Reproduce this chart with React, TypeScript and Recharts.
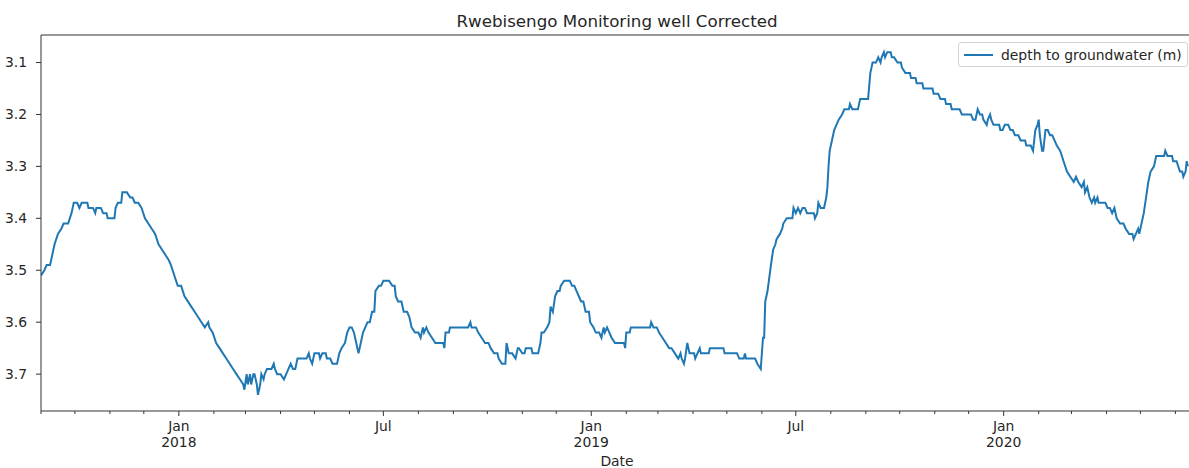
import React from 'react';
import { LineChart, Line, XAxis, YAxis, Legend, ReferenceLine, Customized } from 'recharts';

// Daily well readings (subsampled), depth below ground in metres
const dates = [
  '2017-09-01', '2017-09-04', '2017-09-06', '2017-09-09', '2017-09-11', '2017-09-13', '2017-09-16', '2017-09-19', '2017-09-21', '2017-09-25', '2017-09-28', '2017-09-30',
  '2017-10-03', '2017-10-05', '2017-10-07', '2017-10-12', '2017-10-13', '2017-10-17', '2017-10-19', '2017-10-20', '2017-10-24', '2017-10-26', '2017-10-29', '2017-10-30',
  '2017-11-05', '2017-11-06', '2017-11-08', '2017-11-11', '2017-11-12', '2017-11-16', '2017-11-19', '2017-11-21', '2017-11-23', '2017-11-26', '2017-11-29',
  '2017-12-02', '2017-12-05', '2017-12-08', '2017-12-11', '2017-12-14', '2017-12-17', '2017-12-20', '2017-12-23', '2017-12-25', '2017-12-28', '2017-12-31',
  '2018-01-03', '2018-01-06', '2018-01-09', '2018-01-12', '2018-01-15', '2018-01-18', '2018-01-21', '2018-01-24', '2018-01-27', '2018-01-28', '2018-01-31',
  '2018-02-03', '2018-02-06', '2018-02-09', '2018-02-12', '2018-02-15', '2018-02-18', '2018-02-21', '2018-02-24', '2018-02-27', '2018-02-28',
  '2018-03-02', '2018-03-03', '2018-03-05', '2018-03-06', '2018-03-08', '2018-03-09', '2018-03-11', '2018-03-12', '2018-03-14', '2018-03-15', '2018-03-17', '2018-03-18', '2018-03-20', '2018-03-24', '2018-03-26', '2018-03-27', '2018-03-29',
  '2018-04-01', '2018-04-04', '2018-04-06', '2018-04-08', '2018-04-10', '2018-04-12', '2018-04-14', '2018-04-16', '2018-04-24', '2018-04-26', '2018-04-27', '2018-04-29',
  '2018-05-01', '2018-05-05', '2018-05-06', '2018-05-08', '2018-05-11', '2018-05-12', '2018-05-15', '2018-05-17', '2018-05-21', '2018-05-23', '2018-05-25', '2018-05-28', '2018-05-30',
  '2018-06-01', '2018-06-03', '2018-06-05', '2018-06-07', '2018-06-09', '2018-06-11', '2018-06-13', '2018-06-15', '2018-06-17', '2018-06-19', '2018-06-21', '2018-06-23', '2018-06-24', '2018-06-27', '2018-06-29',
  '2018-07-01', '2018-07-06', '2018-07-09', '2018-07-11', '2018-07-12', '2018-07-14', '2018-07-17', '2018-07-19', '2018-07-22', '2018-07-24', '2018-07-26', '2018-07-29',
  '2018-08-01', '2018-08-03', '2018-08-05', '2018-08-06', '2018-08-08', '2018-08-10', '2018-08-13', '2018-08-16', '2018-08-23', '2018-08-24', '2018-08-25', '2018-08-28', '2018-08-29',
  '2018-09-14', '2018-09-16', '2018-09-17', '2018-09-21', '2018-09-23', '2018-09-26', '2018-09-29',
  '2018-10-02', '2018-10-04', '2018-10-07', '2018-10-10', '2018-10-11', '2018-10-14', '2018-10-17', '2018-10-18', '2018-10-20', '2018-10-23', '2018-10-26', '2018-10-28', '2018-10-29',
  '2018-11-01', '2018-11-03', '2018-11-04', '2018-11-09', '2018-11-10', '2018-11-15', '2018-11-17', '2018-11-18', '2018-11-20', '2018-11-23', '2018-11-25', '2018-11-26', '2018-11-28', '2018-11-30',
  '2018-12-02', '2018-12-04', '2018-12-05', '2018-12-08', '2018-12-13', '2018-12-15', '2018-12-17', '2018-12-19', '2018-12-21', '2018-12-23', '2018-12-25', '2018-12-27', '2018-12-30', '2018-12-31',
  '2019-01-03', '2019-01-05', '2019-01-08', '2019-01-10', '2019-01-12', '2019-01-13', '2019-01-15', '2019-01-17', '2019-01-19', '2019-01-22', '2019-01-30', '2019-01-31',
  '2019-02-01', '2019-02-04', '2019-02-05', '2019-02-22', '2019-02-23', '2019-02-25', '2019-02-28',
  '2019-03-02', '2019-03-05', '2019-03-08', '2019-03-11', '2019-03-13', '2019-03-16', '2019-03-19', '2019-03-21', '2019-03-22', '2019-03-24', '2019-03-25', '2019-03-27', '2019-03-29',
  '2019-04-02', '2019-04-03', '2019-04-05', '2019-04-07', '2019-04-08', '2019-04-15', '2019-04-16', '2019-04-28', '2019-04-29',
  '2019-05-10', '2019-05-12', '2019-05-16', '2019-05-17', '2019-05-18', '2019-05-26', '2019-05-28', '2019-05-31',
  '2019-06-02', '2019-06-03', '2019-06-04', '2019-06-06', '2019-06-09', '2019-06-11', '2019-06-13', '2019-06-14', '2019-06-17', '2019-06-19', '2019-06-20', '2019-06-23', '2019-06-28', '2019-06-29',
  '2019-07-01', '2019-07-03', '2019-07-05', '2019-07-07', '2019-07-09', '2019-07-11', '2019-07-17', '2019-07-18', '2019-07-20', '2019-07-21', '2019-07-23', '2019-07-26', '2019-07-28', '2019-07-29', '2019-07-30', '2019-07-31',
  '2019-08-02', '2019-08-04', '2019-08-06', '2019-08-08', '2019-08-11', '2019-08-13', '2019-08-17', '2019-08-18', '2019-08-20', '2019-08-25', '2019-08-27',
  '2019-09-03', '2019-09-05', '2019-09-07', '2019-09-10', '2019-09-12', '2019-09-14', '2019-09-15', '2019-09-17', '2019-09-18', '2019-09-20', '2019-09-23', '2019-09-24', '2019-09-26', '2019-09-29',
  '2019-10-02', '2019-10-03', '2019-10-06', '2019-10-10', '2019-10-11', '2019-10-15', '2019-10-16', '2019-10-21', '2019-10-22', '2019-10-30', '2019-10-31',
  '2019-11-04', '2019-11-06', '2019-11-10', '2019-11-11', '2019-11-15', '2019-11-16', '2019-11-23', '2019-11-25',
  '2019-12-03', '2019-12-05', '2019-12-07', '2019-12-09', '2019-12-11', '2019-12-13', '2019-12-14', '2019-12-17', '2019-12-18', '2019-12-20', '2019-12-21', '2019-12-23', '2019-12-28', '2019-12-29', '2019-12-31',
  '2020-01-02', '2020-01-05', '2020-01-07', '2020-01-09', '2020-01-11', '2020-01-14', '2020-01-16', '2020-01-20', '2020-01-21', '2020-01-25', '2020-01-27', '2020-01-29', '2020-01-31',
  '2020-02-01', '2020-02-02', '2020-02-04', '2020-02-05', '2020-02-07', '2020-02-09', '2020-02-11', '2020-02-13', '2020-02-15', '2020-02-17', '2020-02-20', '2020-02-23', '2020-02-26', '2020-02-29',
  '2020-03-03', '2020-03-05', '2020-03-07', '2020-03-10', '2020-03-12', '2020-03-13', '2020-03-15', '2020-03-17', '2020-03-19', '2020-03-21', '2020-03-22', '2020-03-24', '2020-03-25', '2020-03-31',
  '2020-04-02', '2020-04-04', '2020-04-06', '2020-04-08', '2020-04-10', '2020-04-13', '2020-04-16', '2020-04-18', '2020-04-21', '2020-04-24', '2020-04-25', '2020-04-27', '2020-04-29', '2020-04-30',
  '2020-05-03', '2020-05-04', '2020-05-06', '2020-05-08', '2020-05-10', '2020-05-13', '2020-05-15', '2020-05-22', '2020-05-23', '2020-05-25', '2020-05-29', '2020-05-30',
  '2020-06-02', '2020-06-05', '2020-06-07', '2020-06-08', '2020-06-10', '2020-06-11', '2020-06-12',
];

const depth = [
  3.51, 3.50, 3.49, 3.49, 3.47, 3.45, 3.43, 3.42, 3.41, 3.41, 3.39, 3.37,
  3.37, 3.38, 3.37, 3.37, 3.38, 3.38, 3.39, 3.38, 3.38, 3.39, 3.39, 3.40,
  3.40, 3.38, 3.37, 3.37, 3.35, 3.35, 3.36, 3.36, 3.37, 3.37, 3.38,
  3.40, 3.41, 3.42, 3.43, 3.45, 3.46, 3.47, 3.48, 3.49, 3.51, 3.53,
  3.53, 3.55, 3.56, 3.57, 3.58, 3.59, 3.60, 3.61, 3.60, 3.61, 3.62,
  3.64, 3.65, 3.66, 3.67, 3.68, 3.69, 3.70, 3.71, 3.72, 3.73,
  3.70, 3.72, 3.70, 3.72, 3.70, 3.70, 3.72, 3.74, 3.72, 3.70, 3.71, 3.70, 3.69, 3.69, 3.68, 3.69, 3.70,
  3.70, 3.71, 3.70, 3.69, 3.68, 3.69, 3.69, 3.67, 3.67, 3.66, 3.67, 3.68,
  3.66, 3.66, 3.67, 3.66, 3.66, 3.67, 3.67, 3.68, 3.68, 3.66, 3.65, 3.64, 3.62,
  3.61, 3.61, 3.62, 3.64, 3.66, 3.64, 3.62, 3.61, 3.60, 3.60, 3.58, 3.58, 3.54, 3.53, 3.53,
  3.52, 3.52, 3.53, 3.53, 3.55, 3.56, 3.56, 3.58, 3.58, 3.59, 3.61, 3.62,
  3.62, 3.63, 3.61, 3.62, 3.61, 3.62, 3.63, 3.64, 3.64, 3.65, 3.62, 3.62, 3.61,
  3.61, 3.60, 3.61, 3.61, 3.62, 3.63, 3.64,
  3.64, 3.65, 3.66, 3.66, 3.67, 3.68, 3.68, 3.64, 3.66, 3.66, 3.67, 3.65, 3.65,
  3.66, 3.66, 3.65, 3.65, 3.66, 3.66, 3.64, 3.62, 3.62, 3.61, 3.60, 3.57, 3.58, 3.55,
  3.54, 3.54, 3.53, 3.52, 3.52, 3.53, 3.53, 3.54, 3.55, 3.56, 3.56, 3.58, 3.58, 3.60,
  3.61, 3.62, 3.62, 3.63, 3.61, 3.62, 3.61, 3.62, 3.63, 3.64, 3.64, 3.65,
  3.62, 3.62, 3.61, 3.61, 3.60, 3.61, 3.61,
  3.62, 3.63, 3.64, 3.65, 3.65, 3.66, 3.67, 3.66, 3.67, 3.68, 3.67, 3.64, 3.66,
  3.66, 3.67, 3.66, 3.65, 3.66, 3.66, 3.65, 3.65, 3.66,
  3.66, 3.67, 3.67, 3.66, 3.67, 3.67, 3.68, 3.69,
  3.63, 3.63, 3.56, 3.54, 3.49, 3.46, 3.45, 3.44, 3.43, 3.42, 3.41, 3.40, 3.40, 3.38,
  3.39, 3.38, 3.39, 3.38, 3.38, 3.39, 3.39, 3.40, 3.39, 3.37, 3.38, 3.38, 3.36, 3.34, 3.30, 3.27,
  3.25, 3.23, 3.22, 3.21, 3.20, 3.19, 3.19, 3.18, 3.19, 3.19, 3.17,
  3.17, 3.12, 3.10, 3.10, 3.09, 3.10, 3.09, 3.08, 3.09, 3.08, 3.08, 3.09, 3.09, 3.10,
  3.10, 3.11, 3.12, 3.12, 3.13, 3.13, 3.14, 3.14, 3.15, 3.15, 3.16,
  3.16, 3.17, 3.17, 3.18, 3.18, 3.19, 3.19, 3.20,
  3.20, 3.21, 3.21, 3.19, 3.20, 3.20, 3.21, 3.22, 3.21, 3.20, 3.21, 3.22, 3.22, 3.23, 3.23,
  3.22, 3.22, 3.23, 3.23, 3.24, 3.24, 3.25, 3.25, 3.26, 3.26, 3.27, 3.23, 3.22,
  3.21, 3.24, 3.27, 3.27, 3.23, 3.23, 3.24, 3.24, 3.25, 3.26, 3.27, 3.29, 3.31, 3.32,
  3.33, 3.32, 3.33, 3.34, 3.33, 3.35, 3.34, 3.36, 3.37, 3.36, 3.37, 3.36, 3.37, 3.37,
  3.38, 3.38, 3.39, 3.38, 3.40, 3.41, 3.41, 3.42, 3.43, 3.43, 3.44, 3.43, 3.42, 3.43,
  3.40, 3.39, 3.36, 3.33, 3.31, 3.30, 3.28, 3.28, 3.27, 3.28, 3.28, 3.29,
  3.29, 3.31, 3.31, 3.32, 3.31, 3.29, 3.30,
];

// Month starts along the date axis; Jan and Jul carry labels
const monthTicks = [
  '2017-09-01', '2017-10-01', '2017-11-01', '2017-12-01',
  '2018-01-01', '2018-02-01', '2018-03-01', '2018-04-01', '2018-05-01', '2018-06-01',
  '2018-07-01', '2018-08-01', '2018-09-01', '2018-10-01', '2018-11-01', '2018-12-01',
  '2019-01-01', '2019-02-01', '2019-03-01', '2019-04-01', '2019-05-01', '2019-06-01',
  '2019-07-01', '2019-08-01', '2019-09-01', '2019-10-01', '2019-11-01', '2019-12-01',
  '2020-01-01', '2020-02-01', '2020-03-01', '2020-04-01', '2020-05-01', '2020-06-01',
];

const majorTickLabels: Record<string, string[]> = {
  '2018-01-01': ['Jan', '2018'],
  '2018-07-01': ['Jul'],
  '2019-01-01': ['Jan', '2019'],
  '2019-07-01': ['Jul'],
  '2020-01-01': ['Jan', '2020'],
};

const yTicks = [3.1, 3.2, 3.3, 3.4, 3.5, 3.6, 3.7];

const X_START = '2017-09-01';
const X_END = '2020-06-17';
const Y_MIN = 3.047;
const Y_MAX = 3.771;

const FONT = '"DejaVu Sans", sans-serif';
const FS = 13.9;
const TEXT = '#262626';
const SPINE = '#333';
const LINE = '#1f77b4';

const data = dates.map((d, i) => ({ t: Date.parse(d), depth: depth[i] }));
const tickValues = monthTicks.map((d) => Date.parse(d));
const tickKey = (v: number) => new Date(v).toISOString().slice(0, 10);

const MonthTick = (props: any) => {
  const { x, y, payload } = props;
  const key = tickKey(payload.value);
  const labels = majorTickLabels[key];
  const month = new Date(payload.value).getUTCMonth();
  const major = month === 0 || month === 6;
  return (
    <g>
      <line x1={x} x2={x} y1={y} y2={y + (major ? 5 : 3)} stroke={SPINE} strokeWidth={1} />
      {labels &&
        labels.map((s, i) => (
          <text
            key={i}
            x={x}
            y={y + 20 + i * 16}
            textAnchor="middle"
            fontSize={FS}
            fontFamily={FONT}
            fill={TEXT}
          >
            {s}
          </text>
        ))}
    </g>
  );
};

const LegendBox = () => (
  <div
    style={{
      boxSizing: 'border-box',
      width: 230,
      height: 25,
      border: '1px solid #d4d4d4',
      borderRadius: 3,
      background: 'rgba(255,255,255,0.8)',
      display: 'flex',
      alignItems: 'center',
      fontFamily: FONT,
      fontSize: FS,
      color: TEXT,
      whiteSpace: 'nowrap',
    }}
  >
    <svg width={42} height={20} style={{ display: 'block', flex: 'none' }}>
      <line x1={5} x2={34} y1={10} y2={10} stroke={LINE} strokeWidth={2} />
    </svg>
    <span>depth to groundwater (m)</span>
  </div>
);

const Titles = () => (
  <g>
    <text x={617} y={27} textAnchor="middle" fontSize={16.7} fontFamily={FONT} fill={TEXT}>
      Rwebisengo Monitoring well Corrected
    </text>
    <text x={617} y={466} textAnchor="middle" fontSize={FS} fontFamily={FONT} fill={TEXT}>
      Date
    </text>
  </g>
);

export default function App() {
  return (
    <div
      style={{
        position: 'absolute',
        left: 0,
        top: 0,
        width: 1189,
        height: 468,
        overflow: 'hidden',
        background: '#fff',
      }}
    >
      <LineChart
        width={1195}
        height={468}
        data={data}
        margin={{ top: 35, right: 1.5, bottom: 0, left: 0 }}
      >
        <XAxis
          dataKey="t"
          type="number"
          scale="time"
          domain={[Date.parse(X_START), Date.parse(X_END)]}
          allowDataOverflow
          ticks={tickValues}
          interval={0}
          tick={<MonthTick />}
          tickLine={false}
          tickSize={0}
          tickMargin={0}
          height={57}
          axisLine={{ stroke: SPINE, strokeWidth: 1 }}
        />
        <YAxis
          reversed
          type="number"
          domain={[Y_MIN, Y_MAX]}
          allowDataOverflow
          ticks={yTicks}
          interval={0}
          width={41}
          tickSize={5}
          tickMargin={9}
          tickFormatter={(v: number) => v.toFixed(1)}
          tick={{ fill: TEXT, fontSize: FS, fontFamily: FONT }}
          tickLine={{ stroke: SPINE }}
          axisLine={{ stroke: SPINE, strokeWidth: 1 }}
        />
        <ReferenceLine y={Y_MIN} stroke={SPINE} strokeWidth={1} />
        <ReferenceLine x={Date.parse(X_END)} stroke={SPINE} strokeWidth={1} />
        <Line
          type="linear"
          dataKey="depth"
          name="depth to groundwater (m)"
          stroke={LINE}
          strokeWidth={2}
          dot={false}
          activeDot={false}
          isAnimationActive={false}
        />
        <Legend
          layout="vertical"
          verticalAlign="middle"
          align="center"
          wrapperStyle={{ position: 'absolute', left: 958, top: 42, width: 230, height: 25 }}
          content={() => <LegendBox />}
        />
        <Customized component={<Titles />} />
      </LineChart>
    </div>
  );
}
